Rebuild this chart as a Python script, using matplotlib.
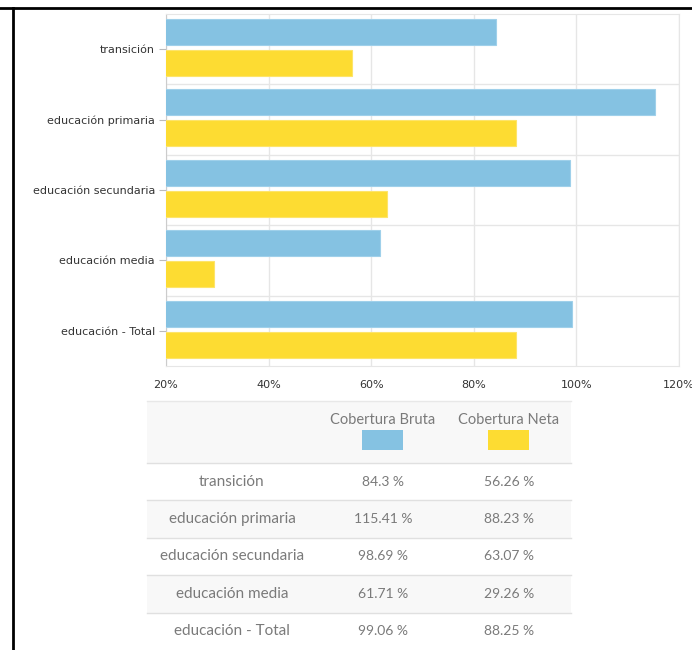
import matplotlib
matplotlib.use("Agg")
import matplotlib.pyplot as plt
from matplotlib.patches import Rectangle
from matplotlib.lines import Line2D
import numpy as np

categories = ["transición", "educación primaria", "educación secundaria", "educación media", "educación - Total"]
bruta = [84.3, 115.41, 98.69, 61.71, 99.06]
neta = [56.26, 88.23, 63.07, 29.26, 88.25]
series_names = ["Cobertura Bruta", "Cobertura Neta"]
xticks = [20, 40, 60, 80, 100, 120]
xtick_labels = ["20%", "40%", "60%", "80%", "100%", "120%"]

BLUE = "#85c2e2"
YELLOW = "#fddc32"

W, H = 692, 650
fig = plt.figure(figsize=(W / 100, H / 100), dpi=100)

def fx(px):
    return px / W

def fy(py):
    return 1 - py / H

# plot area
left, right, top, bottom = 166, 679, 14, 366
ax = fig.add_axes([fx(left), fy(bottom), fx(right - left), (bottom - top) / H])
y = np.arange(len(categories))
ax.barh(y - 0.245, bruta, height=0.37, left=0, color=BLUE, edgecolor="#9fd0ea", linewidth=0.8, zorder=3)
ax.barh(y + 0.195, neta, height=0.37, left=0, color=YELLOW, edgecolor="#fde46a", linewidth=0.8, zorder=3)
ax.set_xlim(20, 120)
ax.set_ylim(len(categories) - 0.5, -0.5)
ax.set_xticks(xticks)
ax.set_xticklabels(xtick_labels, fontsize=8, color="#333333")
ax.set_yticks(y)
ax.set_yticklabels(categories, fontsize=8, color="#333333")
ax.tick_params(axis="x", length=0, pad=10)
ax.tick_params(axis="y", length=5, color="#bbbbbb", pad=3)
for xv in xticks:
    ax.axvline(xv, color="#e6e6e6", lw=1, zorder=1)
for yv in np.arange(0.5, len(categories) - 0.5, 1):
    ax.axhline(yv, color="#e6e6e6", lw=1, zorder=1)
for s in ax.spines.values():
    s.set_color("#e6e6e6")
ax.spines["left"].set_color("#cccccc")

# table
tl, tr = 147, 571
header_top, header_bot = 401, 463
row_h = 37.4
col_centers = [232, 383, 509]
txt_color = "#7a7a7a"
font = "Lato"
fs = 10

fig.patches.append(Rectangle((fx(tl), fy(header_bot)), fx(tr - tl), (header_bot - header_top) / H,
                             transform=fig.transFigure, facecolor="#f8f8f8", edgecolor="none"))
fig.lines.append(Line2D([fx(tl), fx(tr)], [fy(header_top), fy(header_top)], transform=fig.transFigure,
                        color="#e8e8e8", lw=1))
for i, name in enumerate(series_names):
    cx = col_centers[i + 1]
    fig.text(fx(cx), fy(420), name, ha="center", va="center", fontsize=fs + 0.5, color=txt_color,
             family=font)
    color = BLUE if i == 0 else YELLOW
    fig.patches.append(Rectangle((fx(cx - 21), fy(450)), fx(41), 20 / H, transform=fig.transFigure,
                                 facecolor=color, edgecolor="none"))

for r, cat in enumerate(categories):
    rt = header_bot + r * row_h
    rb = rt + row_h
    if r % 2 == 1:
        fig.patches.append(Rectangle((fx(tl), fy(rb)), fx(tr - tl), row_h / H, transform=fig.transFigure,
                                     facecolor="#f8f8f8", edgecolor="none"))
    fig.lines.append(Line2D([fx(tl), fx(tr)], [fy(rt), fy(rt)], transform=fig.transFigure,
                            color="#e0e0e0", lw=1))
    cy = fy(rt + row_h / 2)
    fig.text(fx(col_centers[0]), cy, cat, ha="center", va="center", fontsize=fs + 1, color=txt_color,
             family=font)
    fig.text(fx(col_centers[1]), cy, f"{bruta[r]:g} %", ha="center", va="center", fontsize=fs,
             color=txt_color, family=font)
    fig.text(fx(col_centers[2]), cy, f"{neta[r]:g} %", ha="center", va="center", fontsize=fs,
             color=txt_color, family=font)

# screenshot frame lines
fig.lines.append(Line2D([0, 1], [fy(7.5), fy(7.5)], transform=fig.transFigure, color="black", lw=2))
fig.lines.append(Line2D([fx(12.5), fx(12.5)], [fy(7.5), 0], transform=fig.transFigure, color="black", lw=2))

fig.savefig("out.png", dpi=100, facecolor="white")
